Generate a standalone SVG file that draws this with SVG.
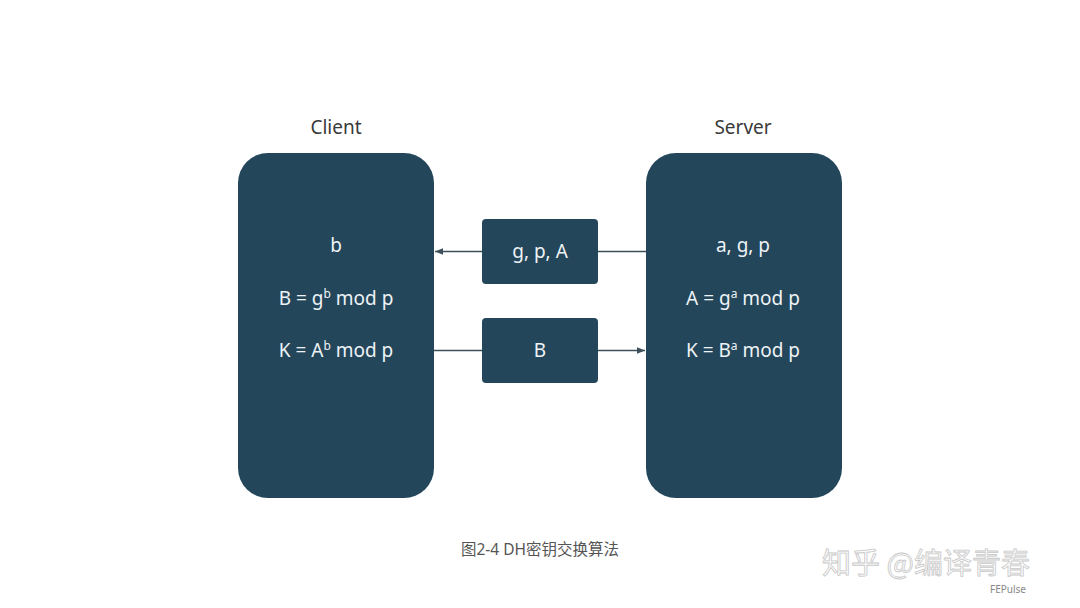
<svg xmlns="http://www.w3.org/2000/svg" width="1080" height="608" viewBox="0 0 1080 608">
<defs>
<style>
.big{fill:#24465a}
.t{font-family:"Noto Sans","Liberation Sans",sans-serif;font-size:19px;fill:#eef3f6;text-anchor:middle}
.h{font-family:"Noto Sans","Liberation Sans",sans-serif;font-size:19px;fill:#3a3a3a;text-anchor:middle}
.sup{font-size:12px}
.ln{stroke:#3d4f5a;stroke-width:1.3;fill:none}
.cap{font-family:"Noto Sans","Noto Sans CJK SC",sans-serif;font-size:15.5px;fill:#555;text-anchor:middle}
.wm{font-family:"Noto Sans CJK SC","Noto Sans",sans-serif;font-size:29px;fill:#fbfbfb;stroke:#c8c8c8;stroke-width:0.8}
</style>
<marker id="ah" viewBox="0 0 10 10" refX="10" refY="5" markerWidth="8" markerHeight="8" markerUnits="userSpaceOnUse" orient="auto">
<path d="M0,1 L10,5 L0,9 Z" fill="#3d4f5a"/>
</marker>
</defs>
<rect width="1080" height="608" fill="#ffffff"/>
<g id="connectors">
<line class="ln" x1="646" y1="251.5" x2="435" y2="251.5" marker-end="url(#ah)"/>
<line class="ln" x1="434" y1="350.5" x2="645" y2="350.5" marker-end="url(#ah)"/>
</g>
<g id="client">
<text class="h" x="336" y="134">Client</text>
<rect class="big" x="238" y="153" width="196" height="345" rx="30"/>
<text class="t" x="336" y="252">b</text>
<text class="t" x="336" y="305">B = g<tspan class="sup" dy="-7">b</tspan><tspan dy="7"> mod p</tspan></text>
<text class="t" x="336" y="357">K = A<tspan class="sup" dy="-7">b</tspan><tspan dy="7"> mod p</tspan></text>
</g>
<g id="server">
<text class="h" x="743" y="134">Server</text>
<rect class="big" x="646" y="153" width="196" height="345" rx="30"/>
<text class="t" x="743" y="252">a, g, p</text>
<text class="t" x="743" y="305">A = g<tspan class="sup" dy="-7">a</tspan><tspan dy="7"> mod p</tspan></text>
<text class="t" x="743" y="357">K = B<tspan class="sup" dy="-7">a</tspan><tspan dy="7"> mod p</tspan></text>
</g>
<g id="msg1">
<rect class="big" x="482" y="219" width="116" height="65" rx="4"/>
<text class="t" x="540" y="258">g, p, A</text>
</g>
<g id="msg2">
<rect class="big" x="482" y="318" width="116" height="65" rx="4"/>
<text class="t" x="540" y="357">B</text>
</g>
<text class="cap" x="540" y="555">图2-4 DH密钥交换算法</text>
<text class="wm" x="822" y="574">知乎 @编译青春</text>
<text x="990" y="593" font-family="Noto Sans,sans-serif" font-size="10" fill="#888">FEPulse</text>
</svg>
